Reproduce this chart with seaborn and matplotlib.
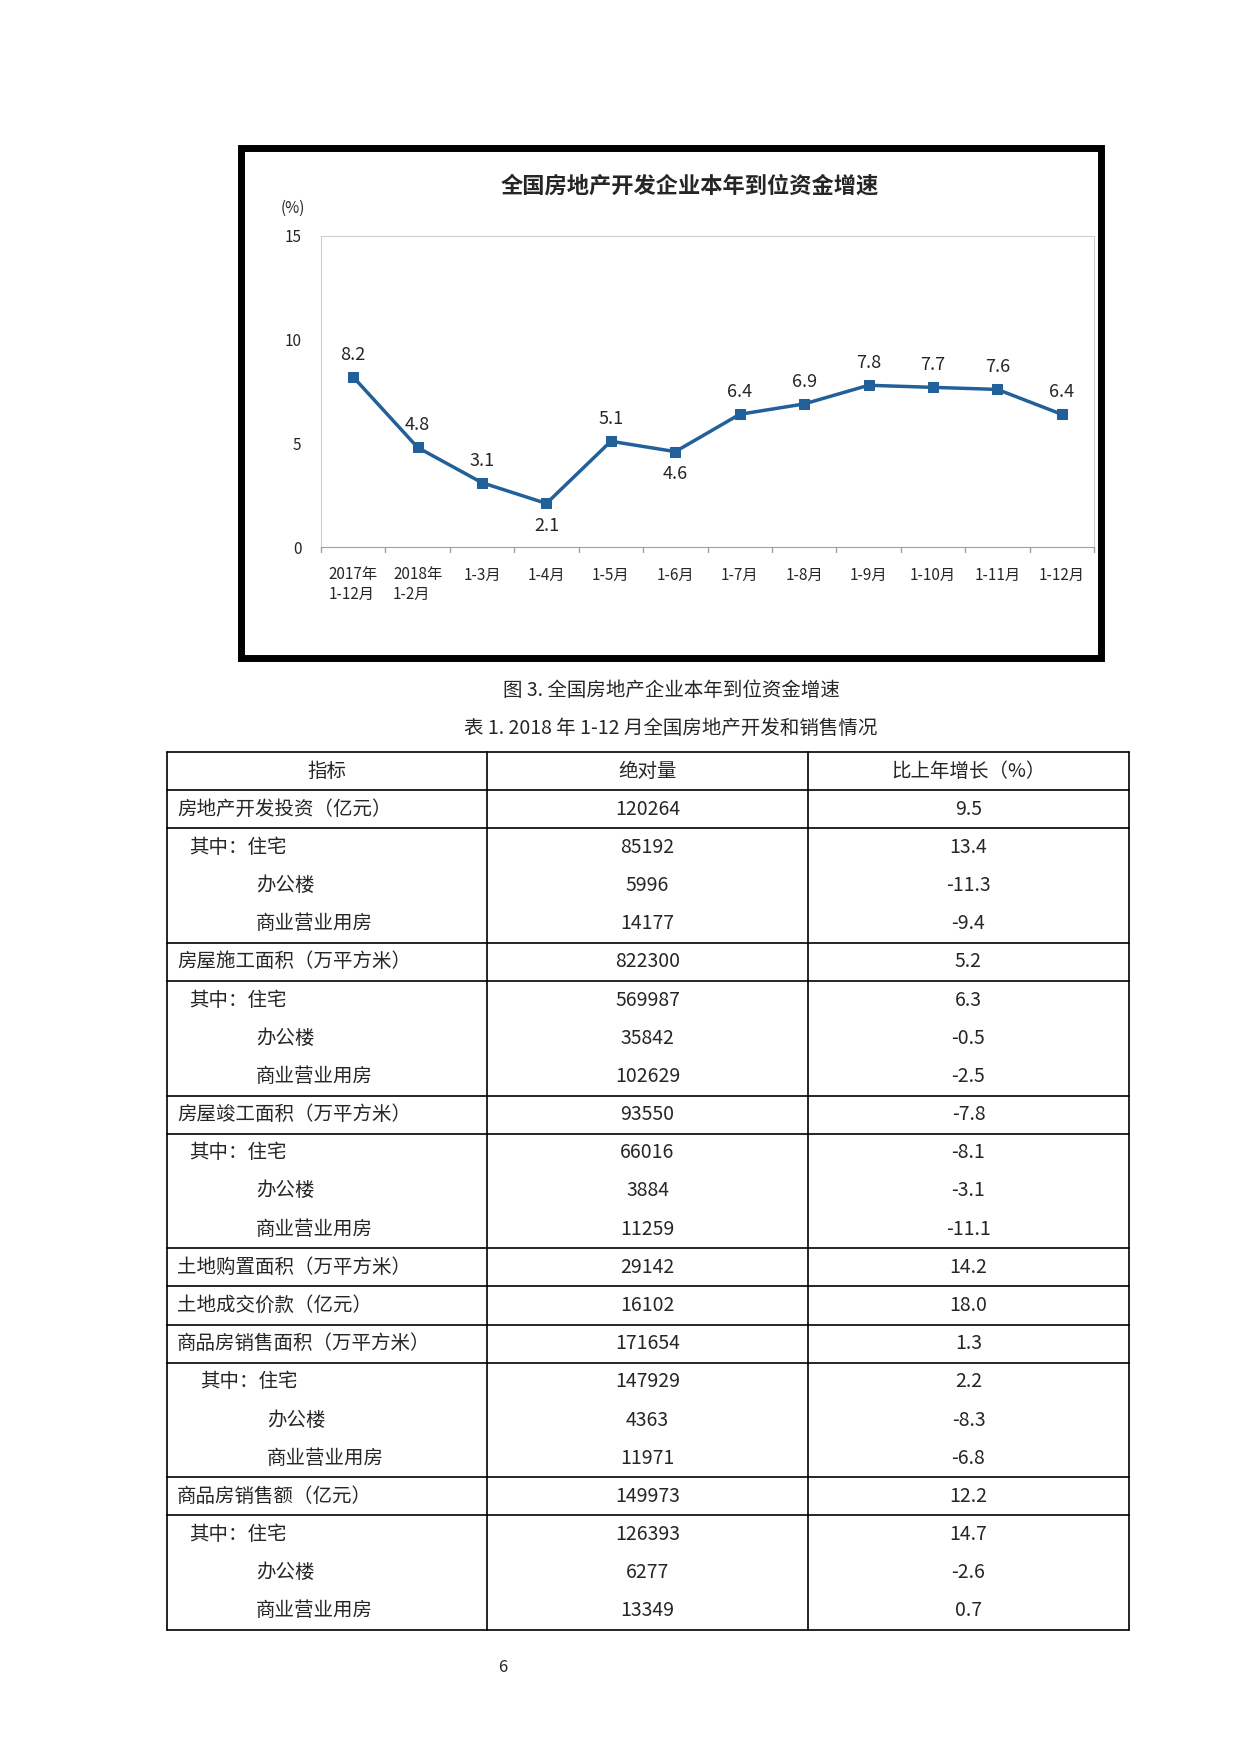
import matplotlib
matplotlib.use("Agg")
import matplotlib.pyplot as plt
import seaborn as sns
import pandas as pd
from matplotlib.patches import Rectangle
from matplotlib.lines import Line2D

sns.set_style("white")
plt.rcParams['font.family'] = ['Noto Sans CJK SC', 'DejaVu Sans']

# ---------------- data ----------------
periods = ["2017年\n1-12月", "2018年\n1-2月", "1-3月", "1-4月", "1-5月", "1-6月",
           "1-7月", "1-8月", "1-9月", "1-10月", "1-11月", "1-12月"]
growth = [8.2, 4.8, 3.1, 2.1, 5.1, 4.6, 6.4, 6.9, 7.8, 7.7, 7.6, 6.4]
below = [False, False, False, True, False, True, False, False, False, False, False, False]

row_names = ["房地产开发投资（亿元）", "其中：住宅", "办公楼", "商业营业用房",
             "房屋施工面积（万平方米）", "其中：住宅", "办公楼", "商业营业用房",
             "房屋竣工面积（万平方米）", "其中：住宅", "办公楼", "商业营业用房",
             "土地购置面积（万平方米）", "土地成交价款（亿元）",
             "商品房销售面积（万平方米）", "其中：住宅", "办公楼", "商业营业用房",
             "商品房销售额（亿元）", "其中：住宅", "办公楼", "商业营业用房"]
abs_vals = ["120264", "85192", "5996", "14177", "822300", "569987", "35842", "102629",
            "93550", "66016", "3884", "11259", "29142", "16102", "171654", "147929",
            "4363", "11971", "149973", "126393", "6277", "13349"]
pct_vals = ["9.5", "13.4", "-11.3", "-9.4", "5.2", "6.3", "-0.5", "-2.5", "-7.8", "-8.1",
            "-3.1", "-11.1", "14.2", "18.0", "1.3", "2.2", "-8.3", "-6.8", "12.2", "14.7",
            "-2.6", "0.7"]
# row level: 0 = top, 1 = "其中", 2 = sub item
levels = [0, 1, 2, 2, 0, 1, 2, 2, 0, 1, 2, 2, 0, 0, 0, 1, 2, 2, 0, 1, 2, 2]

W, H = 1234, 1748
fig = plt.figure(figsize=(W / 100, H / 100), dpi=100)


def fx(x):
    return x / W


def fy(y):
    return 1 - y / H


# ---------------- chart ----------------
fig.patches.append(Rectangle((fx(241), fy(658)), fx(1101) - fx(241), fy(148) - fy(658),
                             transform=fig.transFigure, fill=False, lw=5, ec="black"))
fig.text(fx(690), fy(186), "全国房地产开发企业本年到位资金增速", ha="center", va="center",
         fontsize=16, fontweight="bold")
fig.text(fx(293), fy(208), "(%)", ha="center", va="center", fontsize=11)

ax = fig.add_axes([fx(321), fy(547), fx(1094) - fx(321), fy(236) - fy(547)])
df = pd.DataFrame({"x": range(len(periods)), "y": growth})
color = "#22609a"
sns.lineplot(data=df, x="x", y="y", ax=ax, color=color, lw=2.5, marker="s",
             markersize=7, markeredgecolor=color)
for i, (v, b) in enumerate(zip(growth, below)):
    ax.annotate(f"{v}", (i, v), xytext=(0, -16 if b else 16), textcoords="offset points",
                ha="center", va="center", fontsize=13)
ax.set_xlim(-0.5, len(periods) - 0.5)
ax.set_ylim(0, 15)
ax.set_yticks([0, 5, 10, 15])
ax.set_xticks(range(len(periods)))
ax.set_xticklabels(periods, fontsize=11, ha="center")
ax.tick_params(axis="y", labelsize=11, length=0, pad=14)
ax.tick_params(axis="x", length=0, pad=14)
for s in ["top", "right", "left"]:
    ax.spines[s].set_color("#d0d0d0")
ax.spines["bottom"].set_color("#a0a0a0")
for i in range(len(periods) + 1):
    ax.plot([i - 0.5, i - 0.5], [0, -0.25], color="#a0a0a0", lw=1, clip_on=False)
ax.set_xlabel("")
ax.set_ylabel("")
for lab in ax.get_xticklabels():
    lab.set_multialignment("left")

# ---------------- captions ----------------
fig.text(fx(671), fy(690), "图 3. 全国房地产企业本年到位资金增速", ha="center", va="center", fontsize=14)
fig.text(fx(671), fy(728), "表 1. 2018 年 1-12 月全国房地产开发和销售情况", ha="center", va="center", fontsize=14)

# ---------------- table ----------------
x0, x1, x2, x3 = 167, 487, 808, 1129
top, bottom = 752, 1630
n = len(row_names) + 1
rh = (bottom - top) / n


def hline(y, lw=1.2):
    fig.lines.append(Line2D([fx(x0), fx(x3)], [fy(y), fy(y)], transform=fig.transFigure,
                            color="black", lw=lw))


for xv in [x0, x1, x2, x3]:
    fig.lines.append(Line2D([fx(xv), fx(xv)], [fy(top), fy(bottom)], transform=fig.transFigure,
                            color="black", lw=1.2))
hline(top)
hline(bottom)

yc = top + rh / 2
fig.text(fx((x0 + x1) / 2), fy(yc), "指标", ha="center", va="center", fontsize=14)
fig.text(fx((x1 + x2) / 2), fy(yc), "绝对量", ha="center", va="center", fontsize=14)
fig.text(fx((x2 + x3) / 2), fy(yc), "比上年增长（%）", ha="center", va="center", fontsize=14)
hline(top + rh)

sales_rows = {15, 16, 17}
for i, (name, a, p, lv) in enumerate(zip(row_names, abs_vals, pct_vals, levels)):
    yc = top + rh * (i + 1.5)
    indent = [10, 22, 89][lv]
    if i in sales_rows:
        indent += 11
    fig.text(fx(x0 + indent), fy(yc), name, ha="left", va="center", fontsize=14)
    fig.text(fx((x1 + x2) / 2), fy(yc), a, ha="center", va="center", fontsize=14)
    fig.text(fx((x2 + x3) / 2), fy(yc), p, ha="center", va="center", fontsize=14)
    nxt = levels[i + 1] if i + 1 < len(levels) else 0
    if nxt != 2 and i + 1 < len(levels):
        hline(top + rh * (i + 2))

fig.text(fx(503), fy(1667), "6", ha="center", va="center", fontsize=12)

fig.savefig("out.png", dpi=100)
